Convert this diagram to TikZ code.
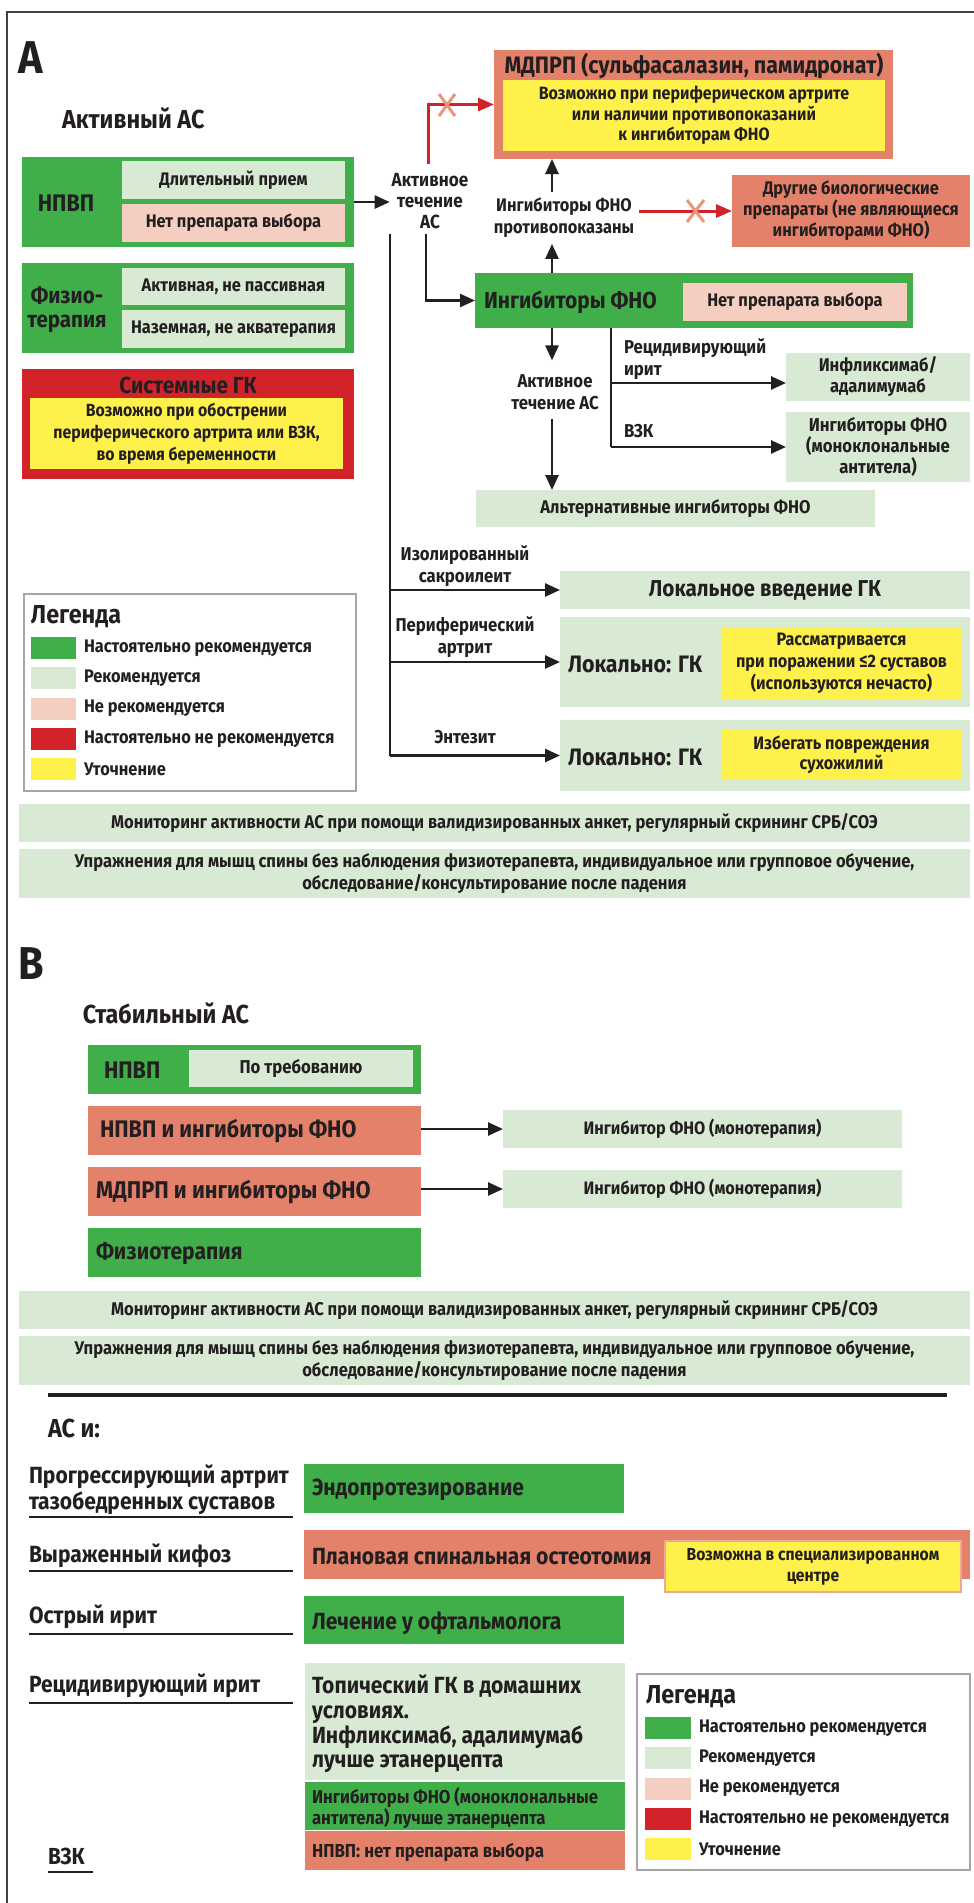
\documentclass[tikz,border=0pt]{standalone}
\usepackage{fontspec}
\setmainfont{Fira Sans}[FakeStretch=0.9]
\usetikzlibrary{fit,arrows.meta,calc}
\definecolor{cG}{RGB}{64,174,73}
\definecolor{cL}{RGB}{216,234,211}
\definecolor{cP}{RGB}{244,207,193}
\definecolor{cS}{RGB}{227,129,106}
\definecolor{cR}{RGB}{210,35,43}
\definecolor{cY}{RGB}{255,241,76}
\definecolor{cX}{RGB}{234,150,122}
\definecolor{ink}{RGB}{35,31,32}
\newcommand\fsz[2]{\fontsize{#1}{#2}\selectfont\bfseries}
\begin{document}
\begin{tikzpicture}[x=0.5pt,y=-0.5pt,
 bx/.style={inner sep=0pt,outer sep=0pt},
 t/.style={inner sep=0pt,outer sep=0pt,text=ink,align=center},
 sm/.style={font=\fsz{9.1}{10.4}},
 lab/.style={font=\fsz{9.3}{11}},
 ttl/.style={font=\fsz{13}{15}},
 bar/.style={font=\fsz{9.2}{10.6}},
 arr/.style={line width=1.3pt,draw=ink,-{Triangle[length=7.5pt,width=6.5pt]}},
 ln/.style={line width=1.3pt,draw=ink},
 rarr/.style={line width=1.5pt,draw=cR,-{Triangle[length=8pt,width=6.5pt]}},
 xm/.style={line width=1.5pt,draw=cX},
 ul/.style={line width=1.3pt,draw=ink}]
\fill[white] (0,0) rectangle (974,1903);
\useasboundingbox (0,0) rectangle (974,1903);
\draw[line width=0.8pt,draw=ink!85] (7,1903) -- (7,12) -- (974,12);

% ---------- A ----------
\node[t,font=\fsz{23}{23}] (secA) at (31,58) {A};
\node[t,ttl,anchor=west] (actAS) at (62,118) {Активный АС};

\node[bx,fill=cS,fit={(494,50)(893,159)}] (mdprp) {};
\node[t,font=\fsz{11.9}{14}] (mdprpT) at (694,66) {МДПРП (сульфасалазин, памидронат)};
\node[bx,fill=cY,fit={(503,80)(885,151)}] (mdprpY) {};
\node[t,font=\fsz{8.9}{10.3}] (mdprpYT) at (mdprpY.center) {Возможно при периферическом артрите\\или наличии противопоказаний\\к ингибиторам ФНО};

\node[bx,fill=cG,fit={(22,157)(354,247)}] (npvpA) {};
\node[t,font=\fsz{12}{13}] (npvpAT) at (66,203) {НПВП};
\node[bx,fill=cL,fit={(122,161)(345,199)}] (dlit) {};
\node[t,sm] (dlitT) at (dlit.center) {Длительный прием};
\node[bx,fill=cP,fit={(122,204)(345,242)}] (netA) {};
\node[t,sm] (netAT) at (netA.center) {Нет препарата выбора};

\node[bx,fill=cG,fit={(22,263)(354,353)}] (phys) {};
\node[t,font=\fsz{11.4}{12}] (physT) at (67,310) {Физио-\\терапия};
\node[bx,fill=cL,fit={(122,268)(345,305)}] (physa) {};
\node[t,sm] (physaT) at (physa.center) {Активная, не пассивная};
\node[bx,fill=cL,fit={(122,310)(345,348)}] (physb) {};
\node[t,sm] (physbT) at (physb.center) {Наземная, не акватерапия};

\node[bx,fill=cR,fit={(22,369)(354,479)}] (sgk) {};
\node[t,font=\fsz{11.6}{13}] (sgkT) at (188,385) {Системные ГК};
\node[bx,fill=cY,fit={(30,398)(343,469)}] (sgkY) {};
\node[t,font=\fsz{8.8}{11}] (sgkYT) at (sgkY.center) {Возможно при обострении\\периферического артрита или ВЗК,\\во время беременности};

\node[t,font=\fsz{9.5}{10.6}] (act1) at (430,201) {Активное\\течение\\АС};
\draw[arr,shorten >=1pt] (npvpA.east) -- (npvpA.east -| act1.west);
\draw[rarr] ($(act1.north)+(-1.5,-9)$) |- (mdprp.west);
\draw[xm] (439,94) -- (455,116) (455,94) -- (439,116);

\coordinate (cx) at (552,0);
\coordinate (c426) at (426,0);
\coordinate (c390) at (390,0);
\coordinate (c611) at (611,0);

\node[t,font=\fsz{9.1}{11}] (contra) at (564,218) {Ингибиторы ФНО\\противопоказаны};
\node[bx,fill=cG,fit={(475,273)(913,328)}] (inhib) {};
\node[t,anchor=west,font=\fsz{11.6}{14}] (inhibT) at (484,302) {Ингибиторы ФНО};
\node[bx,fill=cP,fit={(683,283)(907,321)}] (netB) {};
\node[t,sm] (netBT) at (netB.center) {Нет препарата выбора};
\draw[arr] (inhib.north -| cx) -- ($(contra.south -| cx)+(0,6)$);
\draw[arr] ($(contra.north -| cx)+(0,-6)$) -- (mdprp.south -| cx);

\node[bx,fill=cS,fit={(732,175)(970,247)}] (other) {};
\node[t,font=\fsz{9.1}{10.5}] (otherT) at (other.center) {Другие биологические\\препараты (не являющиеся\\ингибиторами ФНО)};
\draw[rarr] ($(contra.east |- other.west)+(5,0)$) -- (other.west);
\draw[xm] (687,200) -- (704,222) (704,200) -- (687,222);

\draw[arr] ($(act1.south -| c426)+(0,5)$) |- (inhib.west);
\coordinate (v0) at ($(act1.south -| c390)+(0,5)$);

\node[bx,fill=cL,fit={(560,571)(970,609)}] (lokA) {};
\node[t,font=\fsz{11.5}{13}] (lokAT) at (lokA.center) {Локальное введение ГК};
\node[bx,fill=cL,fit={(560,617)(970,707)}] (lokB) {};
\node[t,anchor=west,font=\fsz{11.9}{13}] (lokBT) at (568,664) {Локально: ГК};
\node[bx,fill=cY,fit={(722,627)(961,699)}] (lokBY) {};
\node[t,font=\fsz{9}{11}] (lokBYT) at (lokBY.center) {Рассматривается\\при поражении ≤2 суставов\\(используются нечасто)};
\node[bx,fill=cL,fit={(560,720)(970,791)}] (lokC) {};
\node[t,anchor=west,font=\fsz{11.9}{13}] (lokCT) at (568,757) {Локально: ГК};
\node[bx,fill=cY,fit={(722,730)(961,779)}] (lokCY) {};
\node[t,font=\fsz{9}{9.8}] (lokCYT) at (lokCY.center) {Избегать повреждения\\сухожилий};
\draw[ln] (v0) -- (v0 |- lokC.west);
\draw[arr] (v0 |- lokA.west) -- (lokA.west);
\draw[arr] (v0 |- lokB.west) -- (lokB.west);
\draw[arr] (v0 |- lokC.west) -- (lokC.west);
\node[t,lab] (lbsac) at (465,566) {Изолированный\\сакроилеит};
\node[t,lab] (lbper) at (465,637) {Периферический\\артрит};
\node[t,lab] (lbent) at (465,737) {Энтезит};

\node[t,lab] (act2) at (555,392) {Активное\\течение АС};
\draw[arr] (inhib.south -| cx) -- ($(act2.north -| cx)+(0,-14)$);
\node[bx,fill=cL,fit={(476,490)(875,527)}] (alt) {};
\node[t,font=\fsz{9.2}{10}] (altT) at (alt.center) {Альтернативные ингибиторы ФНО};
\draw[arr] ($(act2.south -| cx)+(0,9)$) -- (alt.north -| cx);

\node[bx,fill=cL,fit={(786,353)(970,401)}] (ib1) {};
\node[t,font=\fsz{9.2}{10.5}] (ib1T) at (ib1.center) {Инфликсимаб/\\адалимумаб};
\node[bx,fill=cL,fit={(786,412)(970,482)}] (ib2) {};
\node[t,font=\fsz{9.3}{10.5}] (ib2T) at (ib2.center) {Ингибиторы ФНО\\(моноклональные\\антитела)};
\coordinate (w1) at (611,383);
\draw[ln] (inhib.south -| c611) -- (c611 |- ib2.west);
\draw[arr] (w1) -- (w1 -| ib1.west);
\draw[arr] (c611 |- ib2.west) -- (ib2.west);
\node[t,align=left,anchor=west,lab] (lbrec) at (624,359) {Рецидивирующий\\ирит};
\node[t,anchor=west,lab] (lbvzk) at (624,431) {ВЗК};

\node[bx,draw=gray!70,line width=1pt,fill=white,fit={(24,594)(356,791)}] (legA) {};
\node[t,anchor=west,ttl] (legAT) at (31,617) {Легенда};
\foreach \c/\tx [count=\i] in {cG/Настоятельно рекомендуется,cL/Рекомендуется,cP/Не рекомендуется,cR/Настоятельно не рекомендуется,cY/Уточнение}{
  \pgfmathsetmacro\yy{637+(\i-1)*30.3}
  \node[bx,fill=\c,fit={(31,\yy)(76,\yy+22)}] (legAs\i) {};
  \node[t,anchor=west,font=\fsz{9.1}{10}] (legAt\i) at (84,\yy+11) {\tx};
}

\node[bx,fill=cL,fit={(19,804)(970,842)}] (monA) {};
\node[t,bar] (monAT) at (monA.center) {Мониторинг активности АС при помощи валидизированных анкет, регулярный скрининг СРБ/СОЭ};
\node[bx,fill=cL,fit={(19,849)(970,898)}] (exA) {};
\node[t,bar] (exAT) at (exA.center) {Упражнения для мышц спины без наблюдения физиотерапевта, индивидуальное или групповое обучение,\\обследование/консультирование после падения};

% ---------- B ----------
\node[t,font=\fsz{23}{23}] (secB) at (31,964) {B};
\node[t,anchor=west,ttl] (stAS) at (83,1013) {Стабильный АС};
\node[bx,fill=cG,fit={(88,1045)(421,1094)}] (npvpB) {};
\node[t,anchor=west,font=\fsz{12}{13}] (npvpBT) at (104,1070) {НПВП};
\node[bx,fill=cL,fit={(189,1050)(413,1087)}] (treb) {};
\node[t,font=\fsz{9.3}{10}] (trebT) at (treb.center) {По требованию};
\node[bx,fill=cS,fit={(88,1106)(421,1155)}] (cmb1) {};
\node[t,anchor=west,font=\fsz{12}{13}] (cmb1T) at (100,1131) {НПВП и ингибиторы ФНО};
\node[bx,fill=cS,fit={(88,1167)(421,1216)}] (cmb2) {};
\node[t,anchor=west,font=\fsz{12.1}{13}] (cmb2T) at (96,1192) {МДПРП и ингибиторы ФНО};
\node[bx,fill=cG,fit={(88,1228)(421,1277)}] (physB) {};
\node[t,anchor=west,font=\fsz{11.7}{13}] (physBT) at (96,1254) {Физиотерапия};
\node[bx,fill=cL,fit={(503,1110)(902,1148)}] (mono1) {};
\node[t,font=\fsz{9}{10}] (mono1T) at (mono1.center) {Ингибитор ФНО (монотерапия)};
\node[bx,fill=cL,fit={(503,1170)(902,1208)}] (mono2) {};
\node[t,font=\fsz{9}{10}] (mono2T) at (mono2.center) {Ингибитор ФНО (монотерапия)};
\draw[arr] (cmb1.east |- mono1.west) -- (mono1.west);
\draw[arr] (cmb2.east |- mono2.west) -- (mono2.west);
\node[bx,fill=cL,fit={(19,1291)(970,1329)}] (monB) {};
\node[t,bar] (monBT) at (monB.center) {Мониторинг активности АС при помощи валидизированных анкет, регулярный скрининг СРБ/СОЭ};
\node[bx,fill=cL,fit={(19,1336)(970,1385)}] (exB) {};
\node[t,bar] (exBT) at (exB.center) {Упражнения для мышц спины без наблюдения физиотерапевта, индивидуальное или групповое обучение,\\обследование/консультирование после падения};

% ---------- lower ----------
\draw[line width=2pt,draw=ink] (48,1395) -- (947,1395);
\node[t,anchor=west,ttl] (asi) at (48,1428) {АС и:};
\node[t,anchor=west,align=left,font=\fsz{11.7}{13}] (q1) at (29,1490) {Прогрессирующий артрит\\тазобедренных суставов};
\draw[ul] (29,1517) -- (293,1517);
\node[t,anchor=west,font=\fsz{11.7}{13}] (q2) at (29,1556) {Выраженный кифоз};
\draw[ul] (29,1571) -- (293,1571);
\node[t,anchor=west,font=\fsz{11.7}{13}] (q3) at (29,1617) {Острый ирит};
\draw[ul] (29,1634) -- (293,1634);
\node[t,anchor=west,font=\fsz{11.7}{13}] (q4) at (29,1686) {Рецидивирующий ирит};
\draw[ul] (29,1703) -- (293,1703);
\node[t,anchor=west,font=\fsz{11.6}{14}] (q5) at (48,1856) {ВЗК};
\draw[ul] (48,1872) -- (93,1872);

\node[bx,fill=cG,fit={(304,1464)(624,1513)}] (endo) {};
\node[t,anchor=west,font=\fsz{11.7}{13}] (endoT) at (312,1490) {Эндопротезирование};
\node[bx,fill=cS,fit={(304,1530)(970,1579)}] (ost) {};
\node[t,anchor=west,font=\fsz{11.7}{13}] (ostT) at (312,1557) {Плановая спинальная остеотомия};
\node[bx,fill=cY,draw=cS!70,line width=1.2pt,fit={(665,1541)(961,1592)}] (spec) {};
\node[t,font=\fsz{8.7}{10.5}] (specT) at (spec.center) {Возможна в специализированном\\центре};
\node[bx,fill=cG,fit={(304,1596)(624,1644)}] (oft) {};
\node[t,anchor=west,font=\fsz{11.7}{13}] (oftT) at (312,1623) {Лечение у офтальмолога};
\node[bx,fill=cL,fit={(305,1663)(625,1780)}] (topic) {};
\node[t,anchor=west,align=left,font=\fsz{11.7}{12.3}] (topicT) at (312,1724) {Топический ГК в домашних\\условиях.\\Инфликсимаб, адалимумаб\\лучше этанерцепта};
\node[bx,fill=cG,fit={(305,1782)(625,1830)}] (mab) {};
\node[t,anchor=west,align=left,font=\fsz{9.3}{10.5}] (mabT) at (312,1808) {Ингибиторы ФНО (моноклональные\\антитела) лучше этанерцепта};
\node[bx,fill=cS,fit={(305,1831)(625,1870)}] (nsB) {};
\node[t,anchor=west,font=\fsz{9.4}{10}] (nsBT) at (312,1852) {НПВП: нет препарата выбора};

\node[bx,draw=gray!70,line width=1pt,fill=white,fit={(637,1674)(970,1870)}] (legB) {};
\node[t,anchor=west,ttl] (legBT) at (646,1697) {Легенда};
\foreach \c/\tx [count=\i] in {cG/Настоятельно рекомендуется,cL/Рекомендуется,cP/Не рекомендуется,cR/Настоятельно не рекомендуется,cY/Уточнение}{
  \pgfmathsetmacro\yy{1717+(\i-1)*30.3}
  \node[bx,fill=\c,fit={(645,\yy)(691,\yy+22)}] (legBs\i) {};
  \node[t,anchor=west,font=\fsz{9.1}{10}] (legBt\i) at (699,\yy+11) {\tx};
}
\end{tikzpicture}
\end{document}
